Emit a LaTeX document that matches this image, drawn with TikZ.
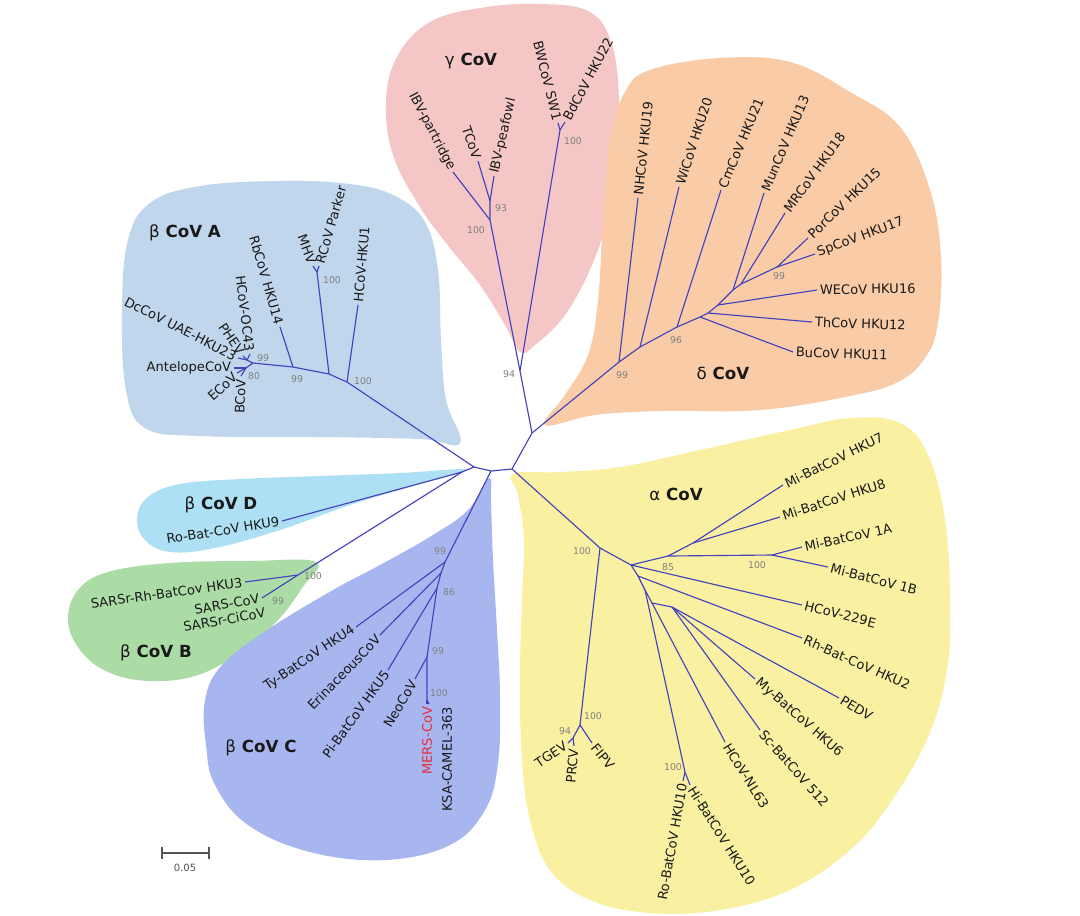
\documentclass[tikz,border=0pt]{standalone}
\usepackage{fontspec}
\setmainfont{DejaVu Sans}
\definecolor{brc}{RGB}{66,66,190}
\definecolor{txt}{RGB}{25,25,25}
\definecolor{bsc}{RGB}{128,128,128}
\definecolor{cG}{RGB}{244,198,198}
\definecolor{cD}{RGB}{249,203,167}
\definecolor{cA}{RGB}{192,214,236}
\definecolor{cBD}{RGB}{174,224,245}
\definecolor{cB}{RGB}{172,220,166}
\definecolor{cC}{RGB}{168,182,240}
\definecolor{cAl}{RGB}{250,240,162}
\definecolor{mers}{RGB}{230,45,55}
\definecolor{sbc}{RGB}{85,85,85}
\tikzset{
  br/.style={draw=brc, line width=0.85pt, line join=round},
  lf/.style={font=\fontsize{9.8}{12}\selectfont, text=txt, inner xsep=2pt, inner ysep=1pt},
  bs/.style={font=\fontsize{7}{8}\selectfont, text=bsc, inner sep=0pt},
  grp/.style={font=\fontsize{12.5}{15}\selectfont\bfseries, text=txt, inner sep=1pt},
  blob/.style={smooth cycle, tension=0.65},
  sbar/.style={draw=sbc, line width=0.8pt},
}
\newcommand\leafin[5]{\coordinate (#2) at #3; \draw[br] (#1) -- (#2); \node[lf,anchor=east,rotate=#4] (#2l) at (#2) {#5};}
\newcommand\leafout[5]{\coordinate (#2) at #3; \draw[br] (#1) -- (#2); \node[lf,anchor=west,rotate=#4] (#2l) at (#2) {#5};}
\newcommand\bsv[3]{\node[bs] (#1) at #2 {#3};}
\begin{document}
\begin{tikzpicture}[x=0.75pt,y=-0.75pt]
\fill[white] (0,0) rectangle (1080,915);
\useasboundingbox (0,0) rectangle (1080,915);
% ---------------- blobs
\fill[cG] plot[blob] coordinates {(520,352) (505,325) (480,285) (450,248) (420,207) (393,155) (386,100) (398,55) (430,22) (480,8) (540,4) (590,12) (612,45) (619,100) (617,160) (608,215) (592,265) (565,315) (535,345)};
\fill[cD] plot[blob] coordinates {(545,425) (565,395) (588,355) (598,300) (603,220) (610,140) (625,92) (650,70) (720,58) (790,62) (850,92) (900,127) (930,190) (941,257) (938,323) (925,358) (898,382) (850,396) (760,410) (660,411) (595,415)};
\fill[cA] plot[blob] coordinates {(122,310) (128,240) (150,203) (200,186) (280,181) (350,184) (395,196) (425,222) (438,270) (441,340) (446,400) (460,443) (420,439) (320,437) (200,436) (145,428) (126,390)};
\fill[cBD] plot[blob] coordinates {(464,469) (400,473) (320,476) (240,479) (180,484) (148,497) (137,518) (145,540) (170,552) (215,548) (280,530) (350,505) (410,487) (455,474)};
\fill[cB] plot[blob] coordinates {(316,562) (302,588) (278,620) (242,651) (198,675) (150,681) (108,672) (80,650) (68,620) (78,590) (108,572) (170,563) (250,561)};
\fill[cC] plot[blob] coordinates {(489,478) (468,510) (433,535) (380,565) (333,590) (267,630) (222,665) (205,700) (206,745) (215,785) (248,825) (310,852) (385,860) (450,845) (485,810) (498,763) (500,697) (497,630) (493,560) (491,505)};
\fill[cAl] plot[blob] coordinates {(513,474) (560,472) (620,467) (700,450) (790,430) (850,418) (900,423) (928,455) (945,520) (950,600) (947,670) (928,737) (890,803) (850,850) (790,890) (720,910) (650,913) (590,900) (550,870) (530,820) (522,760) (520,680) (522,600) (524,540) (518,495)};
% ---------------- centre
\coordinate (C1) at (474,467);
\coordinate (Cbd) at (462,472);
\coordinate (C2) at (491,471);
\coordinate (C3) at (512,469);
\coordinate (C4) at (532,433);
\draw[br] (Cbd) -- (C1) -- (C2) -- (C3) -- (C4);
% ---------------- gamma
\coordinate (G0) at (520,371);
\coordinate (G1) at (490,220);
\coordinate (G2) at (490,201);
\coordinate (G3) at (560,130);
\draw[br] (C4) -- (G0) -- (G1) -- (G2);
\draw[br] (G0) -- (G3);
\leafin{G1}{IBVpa}{(453,172)}{-62.5}{IBV-partridge}
\leafin{G2}{TCoV}{(478,161)}{-71}{TCoV}
\leafout{G2}{IBVpe}{(494,176)}{77}{IBV-peafowl}
\leafin{G3}{BWCoV}{(558,123)}{-76}{BWCoV SW1}
\leafout{G3}{BdCoV}{(565,122)}{62}{BdCoV HKU22}
\bsv{bG0}{(509,374)}{94}
\bsv{bG1}{(476,230)}{100}
\bsv{bG2}{(501,208)}{93}
\bsv{bG3}{(573,141)}{100}
% ---------------- delta
\coordinate (D0) at (619,362);
\coordinate (D1) at (640,347);
\coordinate (D2) at (677,327);
\coordinate (D3) at (700,317);
\coordinate (D4) at (708,313);
\coordinate (D5) at (718,305);
\coordinate (D6) at (725,298);
\coordinate (D7) at (733,290);
\coordinate (D7b) at (741,284);
\coordinate (D8) at (777,267);
\draw[br] (C4) -- (D0) -- (D1) -- (D2) -- (D3) -- (D4) -- (D5) -- (D6) -- (D7) -- (D7b) -- (D8);
\leafout{D0}{NH}{(638,198)}{84}{NHCoV HKU19}
\leafout{D1}{Wi}{(679,187)}{72}{WiCoV HKU20}
\leafout{D2}{Cm}{(721,190)}{67}{CmCoV HKU21}
\leafout{D7}{Mun}{(764,193)}{67}{MunCoV HKU13}
\leafout{D7b}{MR}{(785,213)}{54}{MRCoV HKU18}
\leafout{D8}{Por}{(808,238)}{44}{PorCoV HKU15}
\leafout{D8}{Sp}{(815,254)}{20}{SpCoV HKU17}
\leafout{D5}{WE}{(817,290)}{1}{WECoV HKU16}
\leafout{D4}{Th}{(812,322)}{-2}{ThCoV HKU12}
\leafout{D3}{Bu}{(793,352)}{-2}{BuCoV HKU11}
\bsv{bD0}{(622,375)}{99}
\bsv{bD2}{(676,340)}{96}
\bsv{bD8}{(779,276)}{99}
% ---------------- beta A
\coordinate (A0) at (347,382);
\coordinate (A1) at (329,374);
\coordinate (A2) at (293,367);
\coordinate (A3) at (253,363);
\coordinate (A4) at (247,360);
\coordinate (A5) at (246,368);
\coordinate (M0) at (317,272);
\draw[br] (C1) -- (A0) -- (A1) -- (A2) -- (A3) -- (A4);
\draw[br] (A3) -- (A5);
\draw[br] (A1) -- (M0);
\leafout{A0}{HKUone}{(358,305)}{85}{HCoV-HKU1}
\leafin{M0}{MHV}{(313,266)}{-70}{MHV}
\leafout{M0}{RCoV}{(319,266)}{74}{RCoV Parker}
\leafin{A2}{Rb}{(280,327)}{-74}{RbCoV HKU14}
\leafin{A4}{OC}{(250,354)}{-83}{HCoV-OC43}
\leafin{A4}{PHEV}{(243,356)}{-56}{PHEV}
\leafin{A4}{Dc}{(238,358)}{-27}{DcCoV UAE-HKU23}
\leafin{A5}{Ant}{(234,368)}{0}{AntelopeCoV}
\leafin{A5}{ECoV}{(237,373)}{43}{ECoV}
\leafin{A5}{BCoV}{(241,376)}{88}{BCoV}
\bsv{bA0}{(363,381)}{100}
\bsv{bM0}{(332,280)}{100}
\bsv{bA2}{(297,379)}{99}
\bsv{bA4}{(263,358)}{99}
\bsv{bA5}{(254,376)}{80}
% ---------------- beta D
\leafin{Cbd}{HKUnine}{(282,521)}{9}{Ro-Bat-CoV HKU9}
% ---------------- beta B
\coordinate (B0) at (298,575);
\draw[br] (Cbd) -- (B0);
\leafin{B0}{HKUthree}{(245,582)}{8}{SARSr-Rh-BatCov HKU3}
\leafin{B0}{SARS}{(262,598)}{10}{SARS-CoV}
\node[lf,anchor=east,rotate=10] (Ci) at (268,612) {SARSr-CiCoV};
\bsv{bB0}{(313,576)}{100}
\bsv{bB1}{(278,601)}{99}
% ---------------- beta C
\coordinate (Cc0) at (445,562);
\coordinate (Ce) at (441,573);
\coordinate (C86) at (437,588);
\coordinate (C99) at (427,657);
\coordinate (C100) at (427,700);
\draw[br] (C2) -- (Cc0) -- (Ce) -- (C86) -- (C99) -- (C100);
\leafin{Cc0}{Ty}{(356,627)}{34}{Ty-BatCoV HKU4}
\leafin{Ce}{Eri}{(380,635)}{46}{ErinaceousCoV}
\leafin{C86}{Pi}{(388,670)}{54}{Pi-BatCoV HKU5}
\leafin{C99}{Neo}{(415,679)}{59}{NeoCoV}
\coordinate (MERS) at (427,704);
\coordinate (KSA) at (429,704);
\draw[br] (C100) -- (MERS);
\draw[br] (C100) -- (KSA);
\node[lf,text=mers,anchor=east,rotate=90] (MERSl) at (MERS) {MERS-CoV};
\node[lf,anchor=east,rotate=90] (KSAl) at (447,704) {KSA-CAMEL-363};
\bsv{bCc0}{(440,551)}{99}
\bsv{bC86}{(449,592)}{86}
\bsv{bC99}{(438,651)}{99}
\bsv{bC100}{(439,693)}{100}
% ---------------- alpha
\coordinate (a1) at (600,548);
\coordinate (a2) at (580,725);
\coordinate (a3) at (573,738);
\coordinate (a4) at (631,565);
\coordinate (a5) at (668,556);
\coordinate (a6) at (693,543);
\coordinate (a7) at (772,555);
\coordinate (a8) at (638,576);
\coordinate (a9) at (645,590);
\coordinate (a10) at (652,603);
\coordinate (fan) at (672,607);
\coordinate (h0) at (685,772);
\draw[br] (C3) -- (a1) -- (a2) -- (a3);
\draw[br] (a1) -- (a4) -- (a5) -- (a6);
\draw[br] (a5) -- (a7);
\draw[br] (a4) -- (a8) -- (a9) -- (a10) -- (fan);
\draw[br] (a9) -- (h0);
\leafout{a6}{Hseven}{(783,485)}{26}{Mi-BatCoV HKU7}
\leafout{a6}{Height}{(780,517)}{18}{Mi-BatCoV HKU8}
\leafout{a7}{MoneA}{(802,547)}{12}{Mi-BatCoV 1A}
\leafout{a7}{MoneB}{(828,567)}{-14.5}{Mi-BatCoV 1B}
\leafout{a4}{Etwo}{(802,605)}{-14}{HCoV-229E}
\leafout{a8}{Rh}{(802,638)}{-24}{Rh-Bat-CoV HKU2}
\leafout{fan}{PEDV}{(839,698)}{-31}{PEDV}
\leafout{fan}{My}{(755,679)}{-41.5}{My-BatCoV HKU6}
\leafout{fan}{Sc}{(760,730)}{-48.5}{Sc-BatCoV 512}
\leafout{a10}{NL}{(725,742)}{-58}{HCoV-NL63}
\leafout{h0}{Hi}{(690,785)}{-58}{Hi-BatCoV HKU10}
\leafin{h0}{Ro}{(683,781)}{80}{Ro-BatCoV HKU10}
\leafout{a2}{FIPV}{(592,743)}{-51}{FIPV}
\leafin{a3}{TGEV}{(568,743)}{34}{TGEV}
\leafin{a3}{PRCV}{(574,746)}{85}{PRCV}
\bsv{ba1}{(582,551)}{100}
\bsv{ba5}{(668,567)}{85}
\bsv{ba7}{(757,565)}{100}
\bsv{ba2}{(593,716)}{100}
\bsv{ba3}{(565,731)}{94}
\bsv{bh0}{(673,767)}{100}
% ---------------- group labels
\node[grp] (gG) at (471,61) {{\mdseries γ} CoV};
\node[grp] (gD) at (723,373) {{\mdseries δ} CoV};
\node[grp] (gA) at (185,233) {{\mdseries β} CoV A};
\node[grp] (gBD) at (221,505) {{\mdseries β} CoV D};
\node[grp] (gB) at (156,653) {{\mdseries β} CoV B};
\node[grp] (gC) at (261,748) {{\mdseries β} CoV C};
\node[grp] (gAl) at (676,494) {{\mdseries α} CoV};
% ---------------- scale bar
\coordinate (sbL) at (162,853);
\coordinate (sbR) at (209,853);
\coordinate (sbLt) at (162,847);
\coordinate (sbLb) at (162,859);
\coordinate (sbRt) at (209,847);
\coordinate (sbRb) at (209,859);
\draw[sbar] (sbL) -- (sbR);
\draw[sbar] (sbLt) -- (sbLb);
\draw[sbar] (sbRt) -- (sbRb);
\node[font=\fontsize{7.5}{9}\selectfont, text=sbc] (sbt) at (185,868) {0.05};
\end{tikzpicture}
\end{document}
